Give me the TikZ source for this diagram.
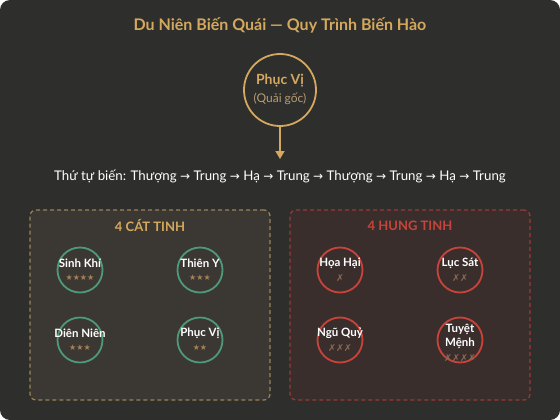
\documentclass[tikz,border=0pt]{standalone}
\usepackage{fontspec}
\setmainfont{Lato}
\newfontfamily\dejavu{DejaVu Sans}
\usetikzlibrary{arrows.meta}
\definecolor{bgc}{HTML}{2E2E2C}
\definecolor{gold}{HTML}{D4A85E}
\definecolor{goldsub}{HTML}{B89C74}
\definecolor{goodbox}{HTML}{3B3833}
\definecolor{badbox}{HTML}{3A2E2D}
\definecolor{jade}{HTML}{4E9A78}
\definecolor{redc}{HTML}{C8443A}
\definecolor{goodedge}{HTML}{9C8258}
\definecolor{badedge}{HTML}{9A3A34}
\definecolor{starc}{HTML}{A58058}
\definecolor{crossc}{HTML}{8C6A55}
\newcommand{\arr}{{\dejavu\fontsize{12}{12}\selectfont →}}
\tikzset{
  titletext/.style={font=\bfseries\fontsize{16}{19}\selectfont, text=gold},
  seqtext/.style={font=\fontsize{13.3}{15}\selectfont, text=white},
  groupbox/.style={rounded corners=6pt, dashed, dash pattern=on 4pt off 3pt, line width=1.2pt, minimum width=240pt, minimum height=190pt},
  grouptitle/.style={font=\bfseries\fontsize{13}{15}\selectfont},
  goodring/.style={circle, draw=jade, line width=1.8pt, minimum size=45pt, inner sep=0pt},
  badring/.style={circle, draw=redc, line width=1.8pt, minimum size=45pt, inner sep=0pt},
  namelabel/.style={font=\bfseries\fontsize{11.5}{13}\selectfont, text=white, inner sep=0pt},
  starlabel/.style={font=\dejavu\fontsize{8}{10}\selectfont, text=starc, inner sep=0pt},
  crosslabel/.style={font=\dejavu\fontsize{9.5}{10}\selectfont, text=crossc, inner sep=0pt},
}
\begin{document}
\begin{tikzpicture}[x=1pt,y=-1pt]
\useasboundingbox (0,0) rectangle (560,420);
\fill[white] (0,0) rectangle (560,420);
\fill[bgc, rounded corners=10pt] (0,0) rectangle (560,420);

\node[titletext] (title) at (280,25) {Du Niên Biến Quái — Quy Trình Biến Hào};

\node[circle, draw=gold, line width=1.8pt, minimum size=72pt] (root) at (280,90) {};
\node[font=\bfseries\fontsize{14}{16}\selectfont, text=gold, inner sep=0pt] (rootname) at (280,81) {Phục Vị};
\node[font=\fontsize{12}{14}\selectfont, text=goldsub, inner sep=0pt] (rootsub) at (280,99) {(Quải gốc)};
\coordinate (seqtop) at (280,159);
\draw[gold, line width=1.5pt, -{Triangle[length=8pt,width=9pt]}] (root.south) -- (seqtop);

\node[seqtext] (seq) at (280,176) {Thứ tự biến: Thượng \arr{} Trung \arr{} Hạ \arr{} Trung \arr{} Thượng \arr{} Trung \arr{} Hạ \arr{} Trung};

% good group
\node[groupbox, draw=goodedge, fill=goodbox] (good) at (150,305) {};
\node[grouptitle, text=gold] (goodtitle) at (150,226) {4 CÁT TINH};
\node[goodring] (sk) at (80,270) {};
\node[namelabel] (skn) at (80,263) {Sinh Khí};
\node[starlabel] (sks) at (80,278) {★★★★};
\node[goodring] (ty) at (200,270) {};
\node[namelabel] (tyn) at (200,263) {Thiên Y};
\node[starlabel] (tys) at (200,278) {★★★};
\node[goodring] (dn) at (80,340) {};
\node[namelabel] (dnn) at (80,333) {Diên Niên};
\node[starlabel] (dns) at (80,348) {★★★};
\node[goodring] (pv) at (200,340) {};
\node[namelabel] (pvn) at (200,333) {Phục Vị};
\node[starlabel] (pvs) at (200,348) {★★};

% bad group
\node[groupbox, draw=badedge, fill=badbox] (bad) at (410,305) {};
\node[grouptitle, text=redc] (badtitle) at (410,226) {4 HUNG TINH};
\node[badring] (hh) at (340,270) {};
\node[namelabel] (hhn) at (340,263) {Họa Hại};
\node[crosslabel] (hhs) at (340,278) {✗};
\node[badring] (ls) at (460,270) {};
\node[namelabel] (lsn) at (460,263) {Lục Sát};
\node[crosslabel] (lss) at (460,278) {✗✗};
\node[badring] (nq) at (340,340) {};
\node[namelabel] (nqn) at (340,333) {Ngũ Quỷ};
\node[crosslabel] (nqs) at (340,348) {✗✗✗};
\node[badring] (tm) at (460,340) {};
\node[namelabel] (tmn1) at (460,329) {Tuyệt};
\node[namelabel] (tmn2) at (460,343) {Mệnh};
\node[crosslabel] (tms) at (460,358) {✗✗✗✗};
\end{tikzpicture}
\end{document}
